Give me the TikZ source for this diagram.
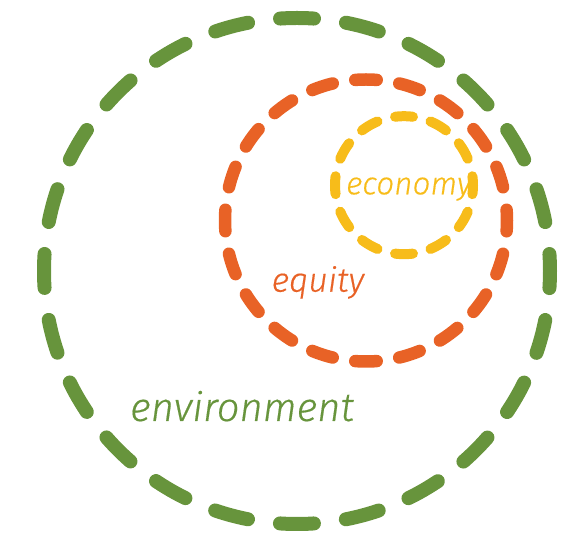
\documentclass[tikz,border=0pt]{standalone}
\usepackage{fontspec}
\newfontfamily\lblfont{Fira Sans}[UprightFont=* Light Italic, FakeBold=0.4]
\definecolor{envgreen}{HTML}{67943C}
\definecolor{eqorange}{HTML}{E86226}
\definecolor{ecoyellow}{HTML}{F7BC1A}
\begin{document}
\begin{tikzpicture}[x=1pt,y=-1pt,
  ring/.style={circle, draw, inner sep=0pt, outer sep=0pt, line cap=round},
  greenring/.style={ring, draw=envgreen, line width=14pt,
    dash pattern=on 34pt off 32.24pt, dash phase=17pt},
  orangering/.style={ring, draw=eqorange, line width=12.5pt,
    dash pattern=on 21.5pt off 22.8pt, dash phase=10.75pt},
  yellowring/.style={ring, draw=ecoyellow, line width=10pt,
    dash pattern=on 18pt off 18.13pt, dash phase=9pt},
  lbl/.style={anchor=base west, inner sep=0pt, font=\lblfont}
]
\useasboundingbox (0,0) rectangle (566,534);
\node[greenring, minimum size=506pt] (env) at (297,271) {};
\node[orangering, minimum size=282pt] (eq) at (366,220.5) {};
\node[yellowring, minimum size=138pt] (eco) at (404,185.2) {};
\node[lbl, text=envgreen, font=\lblfont\fontsize{40}{40}\selectfont] (envl) at (130,421) {environment};
\node[lbl, text=eqorange, font=\lblfont\fontsize{34}{34}\selectfont] (eql) at (271.5,291.7) {equity};
\node[lbl, text=ecoyellow, font=\lblfont\fontsize{31.5}{32}\selectfont] (ecol) at (346,194.3) {economy};
\end{tikzpicture}
\end{document}
